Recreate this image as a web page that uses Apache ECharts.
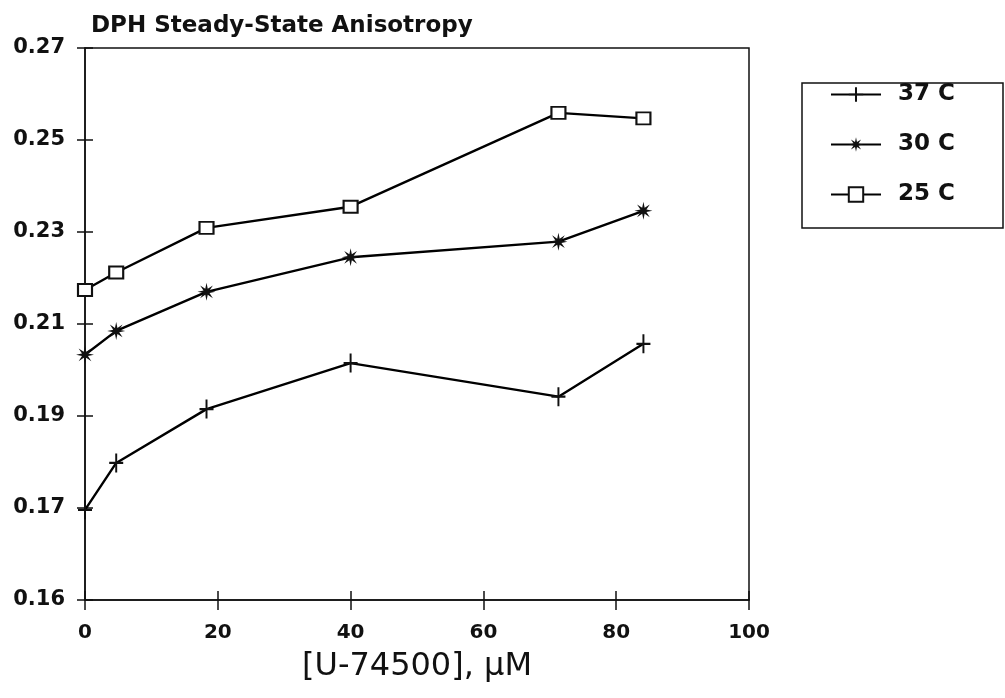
<!DOCTYPE html>
<html>
<head>
<meta charset="utf-8">
<script src="https://cdn.jsdelivr.net/npm/echarts@6/dist/echarts.min.js"></script>
<style>
    html, body { margin: 0; padding: 0; background: #fff; }
    #chart { width: 1005px; height: 698px; }
</style>
</head>
<body>
<div id="chart"></div>
<script>
    // concentration of U-74500 (uM)
    var conc = [0, 4.7, 18.3, 40, 71.3, 84.1];
    // steady-state anisotropy at each temperature
    var aniso37 = [0.1696, 0.1798, 0.1915, 0.2015, 0.1942, 0.2057];
    var aniso30 = [0.2033, 0.2085, 0.2170, 0.2245, 0.2279, 0.2346];
    var aniso25 = [0.2174, 0.2212, 0.2309, 0.2355, 0.2559, 0.2547];
    var seriesNames = ['37 C', '30 C', '25 C'];
    var yTickLabels = ['0.16', '0.17', '0.19', '0.21', '0.23', '0.25', '0.27'];

    function pairs(ys) {
        return conc.map(function (x, i) { return [x, ys[i]]; });
    }

    // asterisk symbol: 8 spikes round a dense centre
    function starPath() {
        var d = '';
        for (var k = 0; k < 16; k++) {
            var a = -Math.PI / 2 + k * Math.PI / 8;
            var r = k % 2 === 0 ? 10 : 3.6;
            d += (k === 0 ? 'M' : 'L') + (10 + r * Math.cos(a)).toFixed(2) + ',' + (10 + r * Math.sin(a)).toFixed(2) + ' ';
        }
        return 'path://' + d + 'Z';
    }
    var plusPath = 'path://M8.6,0 H11.4 V8.8 H20 V11.2 H11.4 V20 H8.6 V11.2 H0 V8.8 H8.6 Z';

    var font = 'DejaVu Sans';
    var chart = echarts.init(document.getElementById('chart'));

    var lineCommon = {
        type: 'line',
        showAllSymbol: true,
        lineStyle: { color: '#000', width: 2.4 },
        animation: false
    };

    chart.setOption({
        backgroundColor: '#fff',
        title: {
            text: 'DPH Steady-State Anisotropy',
            left: 86,
            top: 10,
            textStyle: { fontFamily: font, fontWeight: 'bold', fontSize: 23, color: '#111' }
        },
        grid: {
            left: 85, right: 256, top: 48, bottom: 98,
            show: true, borderColor: '#111', borderWidth: 1.5, backgroundColor: 'transparent'
        },
        legend: {
            orient: 'vertical',
            left: 825,
            top: 78,
            itemWidth: 50,
            itemHeight: 18,
            itemGap: 27,
            data: seriesNames,
            textStyle: { fontFamily: font, fontWeight: 'bold', fontSize: 23, color: '#111', padding: [0, 0, 0, 12] }
        },
        graphic: [{
            type: 'rect',
            shape: { x: 802, y: 83, width: 201, height: 145 },
            style: { fill: 'none', stroke: '#111', lineWidth: 1.5 }
        }],
        xAxis: [{
            type: 'value', min: 0, max: 100, interval: 20,
            axisLine: { lineStyle: { color: '#111', width: 1.5 } },
            axisTick: { length: 10, lineStyle: { color: '#111', width: 1.5 } },
            splitLine: { show: false },
            axisLabel: { margin: 23, fontFamily: font, fontWeight: 'bold', fontSize: 20, color: '#111' },
            name: '[U-74500], μM',
            nameLocation: 'middle',
            nameGap: 51,
            nameTextStyle: { fontFamily: font, fontSize: 32, color: '#111' }
        }, {
            type: 'value', min: 0, max: 100, interval: 20, position: 'bottom',
            axisLine: { show: false },
            axisTick: { inside: true, length: 9, lineStyle: { color: '#111', width: 1.5 } },
            axisLabel: { show: false },
            splitLine: { show: false }
        }],
        yAxis: [{
            type: 'value', min: 0.15, max: 0.27, interval: 0.02,
            axisLine: { show: true, lineStyle: { color: '#111', width: 1.5 } },
            axisTick: { show: true, length: 8, lineStyle: { color: '#111', width: 1.5 } },
            splitLine: { show: false },
            axisLabel: {
                margin: 20, fontFamily: font, fontWeight: 'bold', fontSize: 21, color: '#111',
                formatter: function (v) {
                    var i = Math.round((v - 0.15) / 0.02);
                    return yTickLabels[i];
                }
            }
        }, {
            type: 'value', min: 0.15, max: 0.27, interval: 0.02, position: 'left',
            axisLine: { show: false },
            axisTick: { show: true, inside: true, length: 8, lineStyle: { color: '#111', width: 1.5 } },
            axisLabel: { show: false },
            splitLine: { show: false }
        }],
        series: [
            Object.assign({}, lineCommon, {
                name: seriesNames[0],
                data: pairs(aniso37),
                symbol: plusPath,
                symbolSize: [14, 19],
                itemStyle: { color: '#111' }
            }),
            Object.assign({}, lineCommon, {
                name: seriesNames[1],
                data: pairs(aniso30),
                symbol: starPath(),
                symbolSize: 18,
                itemStyle: { color: '#111' }
            }),
            Object.assign({}, lineCommon, {
                name: seriesNames[2],
                data: pairs(aniso25),
                symbol: 'rect',
                symbolSize: [14, 12],
                itemStyle: { color: '#fff', borderColor: '#111', borderWidth: 2 }
            })
        ]
    });
</script>
</body>
</html>
